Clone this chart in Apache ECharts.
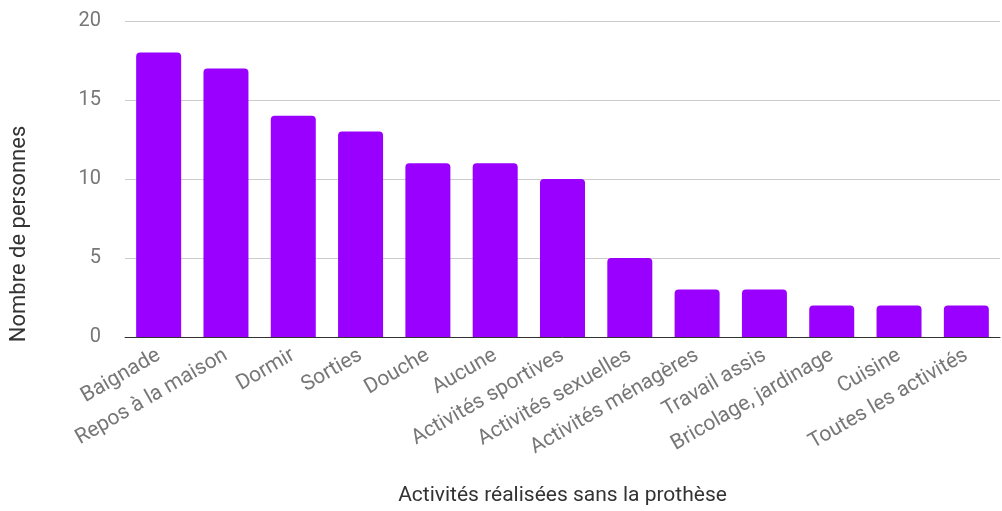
<!DOCTYPE html>
<html>
<head>
<meta charset="utf-8">
<script src="https://cdn.jsdelivr.net/npm/echarts@6/dist/echarts.min.js"></script>
<style>
  html, body { margin: 0; padding: 0; background: #fff; }
  #chart { width: 1002px; height: 511px; }
</style>
</head>
<body>
<div id="chart"></div>
<script>
// catégories (activités) et nombre de personnes
const activites = [
  'Baignade', 'Repos à la maison', 'Dormir', 'Sorties', 'Douche', 'Aucune',
  'Activités sportives', 'Activités sexuelles', 'Activités ménagères',
  'Travail assis', 'Bricolage, jardinage', 'Cuisine', 'Toutes les activités'
]
const personnes = [18, 17, 14, 13, 11, 11, 10, 5, 3, 3, 2, 2, 2]
const yTicks = [0, 5, 10, 15, 20]

const chart = echarts.init(document.getElementById('chart'))

const option = {
  animation: false,
  textStyle: { fontFamily: 'Roboto' },
  grid: {
    left: 122,
    right: 2,
    top: 21,
    bottom: 169
  },
  xAxis: {
    type: 'category',
    data: activites,
    name: 'Activités réalisées sans la prothèse',
    nameLocation: 'middle',
    nameGap: 148,
    nameTextStyle: { color: '#333', fontSize: 21 },
    axisLine: { lineStyle: { color: '#333', width: 1 } },
    axisTick: { show: false },
    axisLabel: {
      rotate: 30,
      interval: 0,
      color: '#777',
      fontSize: 21,
      margin: 17
    }
  },
  yAxis: {
    type: 'value',
    min: yTicks[0],
    max: yTicks[yTicks.length - 1],
    interval: 5,
    name: 'Nombre de personnes',
    nameLocation: 'middle',
    nameGap: 95,
    // le titre est décalé vers le bas comme dans l'original
    nameTextStyle: { color: '#333', fontSize: 22, padding: [0, 110, 0, 0] },
    axisLine: { show: false },
    axisTick: { show: false },
    axisLabel: { color: '#777', fontSize: 20, margin: 24 },
    splitLine: { lineStyle: { color: '#ccc' } }
  },
  series: [
    {
      type: 'bar',
      data: personnes,
      barWidth: 45,
      itemStyle: {
        color: '#9900ff',
        borderRadius: [4, 4, 0, 0]
      }
    }
  ]
}

chart.setOption(option)
</script>
</body>
</html>
